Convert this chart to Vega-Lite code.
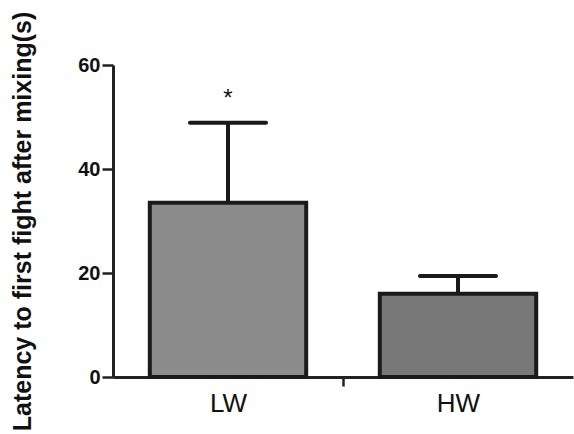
{
  "$schema": "https://vega.github.io/schema/vega-lite/v6.json",
  "autosize": "none",
  "width": 460,
  "height": 312,
  "padding": {"left": 113, "top": 65, "right": 1, "bottom": 57},
  "background": "white",
  "config": {
    "view": {"stroke": null},
    "font": "Liberation Sans"
  },
  "data": {
    "values": [
      {"group": "LW", "mean": 33.5, "upper": 48.9, "sig": "*"},
      {"group": "HW", "mean": 16.0, "upper": 19.4, "sig": ""}
    ]
  },
  "encoding": {
    "x": {
      "field": "group",
      "type": "nominal",
      "sort": ["LW", "HW"],
      "scale": {"paddingInner": 0, "paddingOuter": 0},
      "axis": {
        "title": null,
        "labelAngle": 0,
        "labelFontSize": 26,
        "labelColor": "#111",
        "labelPadding": 4,
        "tickBand": "extent",
        "tickExtra": false,
        "tickSize": 9,
        "tickWidth": 2.5,
        "tickColor": {"condition": {"test": "datum.value == 'LW'", "value": "#222"}, "value": "transparent"},
        "domainColor": "#222",
        "domainWidth": 3
      }
    }
  },
  "layer": [
    {
      "mark": {"type": "bar", "width": {"band": 0.68}, "stroke": "#1a1a1a", "strokeWidth": 4, "strokeJoin": "miter"},
      "encoding": {
        "y": {
          "field": "mean",
          "type": "quantitative",
          "scale": {"domain": [0, 60], "nice": false},
          "axis": {
            "title": "Latency to first fight after mixing(s)",
            "titleFontSize": 25,
            "titleFontWeight": "bold",
            "titleColor": "#111",
            "titlePadding": 42,
            "values": [0, 20, 40, 60],
            "labelFontSize": 20,
            "labelFontWeight": "bold",
            "labelColor": "#111",
            "labelPadding": 2,
            "tickSize": 11,
            "tickWidth": 2.5,
            "tickColor": "#222",
            "domainColor": "#222",
            "domainWidth": 3,
            "grid": false
          }
        },
        "fill": {
          "field": "group",
          "type": "nominal",
          "scale": {"domain": ["LW", "HW"], "range": ["#8c8c8c", "#787878"]},
          "legend": null
        }
      }
    },
    {
      "mark": {"type": "rule", "stroke": "#1a1a1a", "strokeWidth": 4},
      "encoding": {
        "y": {"field": "mean", "type": "quantitative"},
        "y2": {"field": "upper"}
      }
    },
    {
      "mark": {"type": "tick", "orient": "horizontal", "color": "#1a1a1a", "size": 80, "thickness": 4, "opacity": 1, "cornerRadius": 2},
      "encoding": {
        "y": {"field": "upper", "type": "quantitative"}
      }
    },
    {
      "mark": {"type": "text", "fontSize": 24, "dy": -24, "color": "#111", "baseline": "middle"},
      "encoding": {
        "y": {"field": "upper", "type": "quantitative"},
        "text": {"field": "sig"}
      }
    }
  ]
}
